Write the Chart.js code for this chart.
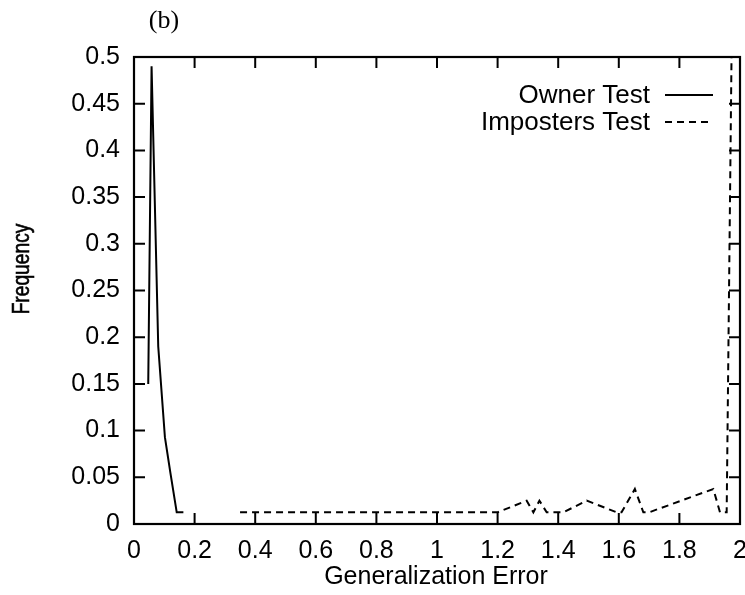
<!DOCTYPE html>
<html>
<head>
<meta charset="utf-8">
<script src="https://cdn.jsdelivr.net/npm/chart.js@4.4.1/dist/chart.umd.min.js"></script>
<style>
  html, body { margin: 0; padding: 0; background: #fff; }
  #wrap { width: 745px; height: 595px; }
</style>
</head>
<body>
<div id="wrap"><canvas id="chart" width="745" height="595"></canvas></div>
<script>
// Owner test histogram (solid line)
const ownerX = [0.047, 0.058, 0.08, 0.102, 0.12, 0.141, 0.163];
const ownerY = [0.15, 0.49, 0.19, 0.093, 0.055, 0.0125, 0.0125];

// Imposters test histogram (dashed line)
const impX = [0.35, 1.2, 1.296, 1.318, 1.338, 1.362, 1.417, 1.494, 1.593, 1.609, 1.653, 1.681, 1.70, 1.912, 1.934, 1.956, 1.972];
const impY = [0.0125, 0.0125, 0.025, 0.0125, 0.025, 0.0125, 0.0125, 0.025, 0.0125, 0.0125, 0.0375, 0.0125, 0.0125, 0.0375, 0.0125, 0.0125, 0.5];

const xTicks = [0, 0.2, 0.4, 0.6, 0.8, 1, 1.2, 1.4, 1.6, 1.8, 2];
const yTicks = [0, 0.05, 0.1, 0.15, 0.2, 0.25, 0.3, 0.35, 0.4, 0.45, 0.5];
const seriesNames = ["Owner Test", "Imposters Test"];

const sans = "'Liberation Sans', Arial, sans-serif";
const toPts = (xs, ys) => xs.map((x, i) => ({ x: x, y: ys[i] }));
const fmt = v => String(Number(v.toFixed(2)));

// gnuplot-ish frame: inward ticks on all four sides, legend and labels
const framePlugin = {
  id: "frame",
  afterDraw(chart) {
    const ctx = chart.ctx;
    const a = chart.chartArea;
    const xs = chart.scales.x, ys = chart.scales.y;
    const tl = 11;
    ctx.save();
    ctx.strokeStyle = "#000";
    ctx.lineWidth = 2.2;
    ctx.strokeRect(a.left, a.top, a.right - a.left, a.bottom - a.top);
    ctx.beginPath();
    ctx.lineWidth = 2;
    xTicks.forEach(v => {
      const px = xs.getPixelForValue(v);
      ctx.moveTo(px, a.bottom); ctx.lineTo(px, a.bottom - tl);
      ctx.moveTo(px, a.top); ctx.lineTo(px, a.top + tl);
    });
    yTicks.forEach(v => {
      const py = ys.getPixelForValue(v);
      ctx.moveTo(a.left, py); ctx.lineTo(a.left + tl, py);
      ctx.moveTo(a.right, py); ctx.lineTo(a.right - tl, py);
    });
    ctx.stroke();

    // legend (text right aligned, sample on the right)
    ctx.font = "26px " + sans;
    ctx.fillStyle = "#000";
    ctx.textAlign = "right";
    ctx.textBaseline = "middle";
    const rows = [96, 123];
    seriesNames.forEach((name, i) => {
      ctx.fillText(name, 650, rows[i]);
      ctx.beginPath();
      ctx.lineWidth = 2;
      ctx.setLineDash(i === 0 ? [] : [7, 5]);
      ctx.moveTo(665, rows[i] - 1);
      ctx.lineTo(713, rows[i] - 1);
      ctx.stroke();
    });
    ctx.setLineDash([]);

    // axis titles
    ctx.textAlign = "center";
    ctx.font = "25px " + sans;
    ctx.fillText("Generalization Error", 436, 577);
    ctx.save();
    ctx.translate(22, 269);
    ctx.rotate(-Math.PI / 2);
    ctx.scale(0.8, 1);
    ctx.font = "24px " + sans;
    ctx.fillText("Frequency", 0, 0);
    ctx.lineWidth = 0.6;
    ctx.strokeText("Frequency", 0, 0);
    ctx.restore();

    // panel label
    ctx.font = "26px 'Liberation Serif', 'Times New Roman', serif";
    ctx.fillText("(b)", 164, 21);
    ctx.restore();
  }
};

new Chart(document.getElementById("chart"), {
  type: "scatter",
  data: {
    datasets: [
      {
        label: seriesNames[0],
        data: toPts(ownerX, ownerY),
        showLine: true,
        borderColor: "#000",
        borderWidth: 2,
        pointRadius: 0,
        tension: 0
      },
      {
        label: seriesNames[1],
        data: toPts(impX, impY),
        showLine: true,
        borderColor: "#000",
        borderWidth: 2,
        borderDash: [7, 5],
        pointRadius: 0,
        tension: 0
      }
    ]
  },
  options: {
    responsive: false,
    animation: false,
    layout: { padding: { left: 0, right: 5, top: 57, bottom: 0 } },
    plugins: { legend: { display: false }, tooltip: { enabled: false } },
    scales: {
      x: {
        type: "linear",
        min: 0, max: 2,
        afterBuildTicks: s => { s.ticks = xTicks.map(v => ({ value: v })); },
        afterFit: s => { s.height = 71; s.paddingLeft = 0; s.paddingRight = 0; },
        grid: { display: false, drawTicks: false },
        border: { display: false },
        ticks: { color: "#000", font: { family: sans, size: 25 }, padding: 12, maxRotation: 0, callback: v => fmt(v) }
      },
      y: {
        type: "linear",
        min: 0, max: 0.5,
        afterBuildTicks: s => { s.ticks = yTicks.map(v => ({ value: v })); },
        afterFit: s => { s.width = 134; s.paddingTop = 0; s.paddingBottom = 0; },
        grid: { display: false, drawTicks: false },
        border: { display: false },
        ticks: { color: "#000", font: { family: sans, size: 25 }, padding: 14, callback: v => fmt(v) }
      }
    }
  },
  plugins: [framePlugin]
});
</script>
</body>
</html>
